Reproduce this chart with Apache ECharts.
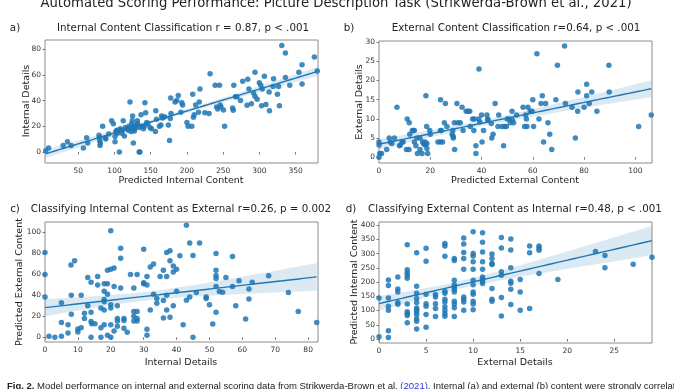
<!DOCTYPE html>
<html><head><meta charset="utf-8">
<script src="https://cdn.jsdelivr.net/npm/echarts@6/dist/echarts.min.js"></script>
<style>html,body{margin:0;padding:0;background:#fff;overflow:hidden}#c{width:674px;height:389px}</style>
</head><body><div id="c"></div><script>
// ---- Panel a: Predicted Internal Content (x) vs Internal Details (y)
const aX = [5,9,29,35,40,57,61.5,63,78.6,79,79.5,80,80.4,83.6,87,88,96,98.4,92,100.7,100.7,103,104,106.7,108,110,111,112,113.6,121.4,122,123.7,124.6,125,125.6,126,127.4,128,130,131.6,134,135,134.3,136.6,140,141,142,143,144.5,146,149,151,156.5,157,158,162,164,165,166.6,169,174.4,176,177,177.6,178,183.6,186,188,191.5,193,194,200,201.6,206.7,208,209,210,212,216,217,218,224.7,230.6,232,239,241,242.6,245,246,247,250.5,252,263,264,264.7,267,269,274,277,283,284,285.6,289,294,292,294,297,300,302,304,303,307,309,313.5,314,319.6,319,325,326.6,327.7,331,336,336,342,354.6,359,359,376,380,102,106,115,118,120,123,119,128,132,138];
const aY = [1,3,5,8,5,3,11,7,13,11,9,5,7,20,11,10,24.4,22,14,12,8,17,14.5,0,18,14.5,17,24.4,12.5,39,18.4,22,24.4,28,19.7,7,16.4,18,21,24.4,0,0,19,29,18,20,38.4,30.6,23,22,19,18,16,32,25.4,20,21,28,26.5,27.5,21,9,26,42,30,39,40,44,31,38.4,36.6,23,20,20,45,27,29,36.6,31,39,49,30.6,30,61,52,35,33.5,52,36.6,35,32.7,20,34.3,32.5,52,43,43,40,55,36.3,56.6,49,37.6,62,46,43.4,41,54,52,49,36,59,37,46.7,32,57,51,45,51,36,83,77,58,52,62,68,53,74,63,16,17,19,18,20,16,17,19,22,20];
const aXTicks = [50,100,150,200,250,300,350];
const aYTicks = [0,20,40,60,80];

// ---- Panel b: Predicted External Content (x) vs External Details (y)
const bX = [0,0.3,1,0,0,3,4,4.4,5,6,7,8,8.3,9,9.4,11,11.8,10.7,11.7,12,13,13.4,13.8,13.8,14.4,14.8,15,16,16.8,16,17,17.4,18,18,18.7,19,18.7,18.3,18.6,19.8,20,24,23,24,24.8,24,24.3,25.9,25.5,26.5,28.5,28.8,29,28.9,29.5,29.4,30.4,30.8,31.7,32.4,32.8,34,34.7,35.4,35.6,37,36.5,37.2,37.8,37.8,39,38.9,39.3,40,40.2,40.8,42.1,42.4,42.5,43.8,44,44.5,45.3,46.4,46.7,48,48.6,49,49.7,50,50.7,51.2,51.9,52,52.5,53.7,56.2,56.8,57.2,57.5,57.7,58.1,59,59.7,60,60.3,61.6,62.4,63.2,63.7,64.2,65,65.9,66.6,67.4,69,69.6,72.4,72.7,75.3,76.6,77.5,77.6,80,81,81,82,83,85,89.7,89.8,101.3,106.2];
const bY = [0,1,1,3.2,4,2,5,4,3.6,5,13,3,3.2,4,4,10,9,2,2,6,7,7,7,4,3,5,1,2,1,5,4,3.5,3.2,4,2.3,1,3.6,16,8,7,6,15,4,4,4,7,7,14,9,8,6,7,5,5.5,2,9,14,9,9,13,7,12,12,12,8,7,10,10,3,1,23,10,9.2,11,4,7,11,10,9.7,8.8,5,6,14,8,11,8,3,8,8,10,10,9,12,9.7,9,11,13,8,11,10,8,13,12,12,15,8,27,10,14,16,4,14,9,6,2,15,24,29,14,13,5,12,17,13,19,16,14,17,12,24,17,8,11];
const bXTicks = [0,20,40,60,80,100];
const bYTicks = [0,5,10,15,20,25,30];

// ---- Panel c: Internal Details (x) vs Predicted External Content (y)
const cX = [0,0,0,1.2,3,5,5,5,7,7,7.9,8,8,9,10,10,11,11,12,12,13,13,14,14,14,14,14.2,15.2,16,16,17,17,17,18,18,18,18,18,18,19,19,19,19,20,20,20,20,20,20,21,21,21,22,22,22,22,23,23,23,24,24,24,25,26,27,27,27,27,28,28,28,28,30,30,30,31,31,31,31,32,32,33,33,34,34,35,36,36,36,37,37,37,37,38,38,38,39,39,39,40,40,41,42,43,43,44,44,45,45,46,47,49,49,50,51,52,52,52,52,52,52,53,54,55,57,57,58,59,61,62,62,63,68,74,77,82.6];
const cY = [81,60,38.5,1,0,1,33,14,12,4,69,22,40,73,8,5,40,9,18,23,57,30,52.5,0,24,15,13,13,58,50,28,0,9,51,36,34,26,12,44,51,41,64,2,101.6,65,31,28,12,0,66,48.4,6,30,18,15.6,10.5,85,75.5,47,18,16,8.6,4.8,60,47,24.5,20,15.6,60,24.5,18,15.6,84,52,51,58,50,7.6,2,67,26,70,41,37,32.5,58,64,35,18.5,81,58,26,40,82.5,73,19,68,62.4,30,65,44,77.7,12,107,35.4,90,38.5,78,0,42.7,90,38.5,37,31,12.7,80,64,59,56,48.4,24,43.6,43,57,77,48.4,30,54,17.5,46,36.6,52.5,58.6,42.7,24.5,14];
const cXTicks = [0,10,20,30,40,50,60,70,80];
const cYTicks = [0,20,40,60,80,100];

// ---- Panel d: External Details (x) vs Predicted Internal Content (y)
const dX = [0,0,1,1,1,1,1,1,1,2,2,2,2,2,3,3,3,3,3,3,3,3,3,3,4,4,4,4,4,4,4,4,4,4,4,4,5,5,5,5,5,5,5,6,6,6,6,6,7,7,7,7,7,7,7,7,7,7,7,8,8,8,8,8,8,8,8,8,8,8,9,9,9,9,9,9,9,9,9,10,10,10,10,10,10,10,10,10,10,10,10,11,11,11,11,11,11,11,11,11,12,12,12,12,12,12,12,13,13,13,13,13,13,14,14,14,14,14,14,14,15,15,15,16,16,16,17,17,17,17,19,23,24,24,27,29];
const dY = [144,8,207.6,188,144,115,101,29,5,218,176,165,128,122,331,243,233,224,213.5,123,96,89,83,57.5,303,185,161,142,128,109,103,95,86,71.5,62,35,319,273,157,124,115,86,41,156,148,124,107,79,335.5,327,291,168,161,140,130,113,101,89,80,283,276,206.5,191,183,173.6,165,132.5,123,110,79,355,334,304,283,245,148,140,130,101,376.5,300,292,271,245,206.5,191,165,157,132.5,123,103,373,340,306,271,245,218,212,203,195,299,283,265,261.6,177,140,132.5,356.6,320,236,224,145.5,81,351,313,250,203,196,175,121,209,165,101,327,303,107,327,320,312,230,209,307,293,250,263,287];
const dXTicks = [0,5,10,15,20,25];
const dYTicks = [0,50,100,150,200,250,300,350,400];

const FONT = 'DejaVu Sans';
const BLUE = '#1f77b4';

function regress(xs, ys, x0, x1) {
  const n = xs.length;
  let mx = 0, my = 0;
  for (let i = 0; i < n; i++) { mx += xs[i]; my += ys[i]; }
  mx /= n; my /= n;
  let sxx = 0, sxy = 0;
  for (let i = 0; i < n; i++) { sxx += (xs[i]-mx)*(xs[i]-mx); sxy += (xs[i]-mx)*(ys[i]-my); }
  const b = sxy / sxx, a = my - b*mx;
  let sse = 0;
  for (let i = 0; i < n; i++) { const r = ys[i] - (a + b*xs[i]); sse += r*r; }
  const s = Math.sqrt(sse/(n-2)), t = 1.976;
  const line = [], up = [], lo = [];
  const steps = 60;
  for (let k = 0; k <= steps; k++) {
    const x = x0 + (x1-x0)*k/steps;
    const yh = a + b*x;
    const se = s*Math.sqrt(1/n + (x-mx)*(x-mx)/sxx);
    line.push([x, yh]); up.push([x, yh + t*se]); lo.push([x, yh - t*se]);
  }
  return {line, up, lo};
}

const panels = [
  {xs:aX, ys:aY, xr:[4,381], yr:[-8.6,87.2], xt:aXTicks, yt:aYTicks, grid:{left:45, top:40, width:273, height:123}},
  {xs:bX, ys:bY, xr:[0,106.5], yr:[-1.5,30.3], xt:bXTicks, yt:bYTicks, grid:{left:379, top:41, width:273, height:122}},
  {xs:cX, ys:cY, xr:[0,83], yr:[-4.5,110], xt:cXTicks, yt:cYTicks, grid:{left:45, top:222, width:273, height:120}},
  {xs:dX, ys:dY, xr:[0,29], yr:[-14,411], xt:dXTicks, yt:dYTicks, grid:{left:379, top:222, width:273, height:121}}
];

const grids = [], xAxes = [], yAxes = [], series = [];
panels.forEach((p, i) => {
  grids.push(Object.assign({show:true, borderColor:'#8c8c8c', borderWidth:1, containLabel:false}, p.grid));
  const common = {
    type:'value', gridIndex:i,
    axisLine:{show:false}, splitLine:{show:false},
    axisTick:{show:true, inside:false, length:2.5, lineStyle:{color:'#777'}},
  };
  xAxes.push(Object.assign({}, common, {min:p.xr[0], max:p.xr[1],
    axisTick:Object.assign({}, common.axisTick, {customValues:p.xt}),
    axisLabel:{customValues:p.xt, fontSize:7.5, color:'#333', fontFamily:FONT, margin:4}}));
  yAxes.push(Object.assign({}, common, {min:p.yr[0], max:p.yr[1],
    axisTick:Object.assign({}, common.axisTick, {customValues:p.yt}),
    axisLabel:{customValues:p.yt, fontSize:7.5, color:'#333', fontFamily:FONT, margin:4}}));
  const xmin = Math.min(...p.xs), xmax = Math.max(...p.xs);
  const r = regress(p.xs, p.ys, Math.max(xmin, p.xr[0]), Math.min(xmax, p.xr[1]));
  series.push({
    type:'custom', xAxisIndex:i, yAxisIndex:i, silent:true, clip:true, z:1,
    data:[[ (p.xr[0]+p.xr[1])/2, (p.yr[0]+p.yr[1])/2 ]],
    renderItem:(params, api) => {
      const pts = r.up.map(d => api.coord(d)).concat(r.lo.slice().reverse().map(d => api.coord(d)));
      return {type:'polygon', shape:{points:pts}, style:{fill:'rgba(31,119,180,0.16)', stroke:null}};
    }
  });
  series.push({
    type:'scatter', xAxisIndex:i, yAxisIndex:i, symbolSize:5.5, z:2,
    itemStyle:{color:BLUE, opacity:0.85},
    data:p.xs.map((x, k) => [x, p.ys[k]])
  });
  series.push({
    type:'line', xAxisIndex:i, yAxisIndex:i, showSymbol:false, symbol:'none', z:3,
    lineStyle:{color:BLUE, width:1.4}, data:r.line
  });
});

function txt(x, y, text, size, opts) {
  return Object.assign({type:'text', x:x, y:y, style:Object.assign({text:text, font: size+'px "'+FONT+'"', fill:'#222', align:'center', verticalAlign:'middle'}, (opts&&opts.style)||{})}, opts&&opts.rotation!==undefined ? {rotation:opts.rotation} : {});
}

const graphics = [
  txt(336, 4, 'Automated Scoring Performance: Picture Description Task (Strikwerda-Brown et al., 2021)', 13.2),
  txt(15, 28, 'a)', 10.3),
  txt(183, 28, 'Internal Content Classification r = 0.87, p < .001', 10.3),
  txt(349, 28, 'b)', 10.3),
  txt(516, 28, 'External Content Classification r=0.64, p < .001', 10.3),
  txt(15, 209, 'c)', 10.3),
  txt(181, 209, 'Classifying Internal Content as External r=0.26, p = 0.002', 10.3),
  txt(351, 209, 'd)', 10.3),
  txt(515, 209, 'Classifying External Content as Internal r=0.48, p < .001', 10.3),
  txt(181, 181, 'Predicted Internal Content', 9.5),
  txt(515, 181, 'Predicted External Content', 9.5),
  txt(181, 363, 'Internal Details', 9.5),
  txt(515, 363, 'External Details', 9.5),
  txt(27, 101, 'Internal Details', 9.5, {rotation:Math.PI/2}),
  txt(360, 102, 'External Details', 9.5, {rotation:Math.PI/2}),
  txt(20, 282, 'Predicted External Content', 9.5, {rotation:Math.PI/2}),
  txt(355, 282, 'Predicted Internal Content', 9.5, {rotation:Math.PI/2}),
  {type:'text', x:7, y:381, style:{
    text:'{b|Fig. 2.} Model performance on internal and external scoring data from Strikwerda-Brown et al. {l|(2021)}. Internal (a) and external (b) content were strongly correlated',
    font:'9.5px "Liberation Sans"', fill:'#222', align:'left', verticalAlign:'top',
    rich:{b:{fontWeight:'bold', fontSize:9.5, fontFamily:'Liberation Sans'}, l:{fill:'#2a3bd6', fontSize:9.5, fontFamily:'Liberation Sans'}}
  }}
];

const chart = echarts.init(document.getElementById('c'), null, {renderer:'canvas'});
chart.setOption({
  animation:false,
  backgroundColor:'#fff',
  grid:grids, xAxis:xAxes, yAxis:yAxes, series:series,
  graphic:{elements:graphics}
});
</script></body></html>
